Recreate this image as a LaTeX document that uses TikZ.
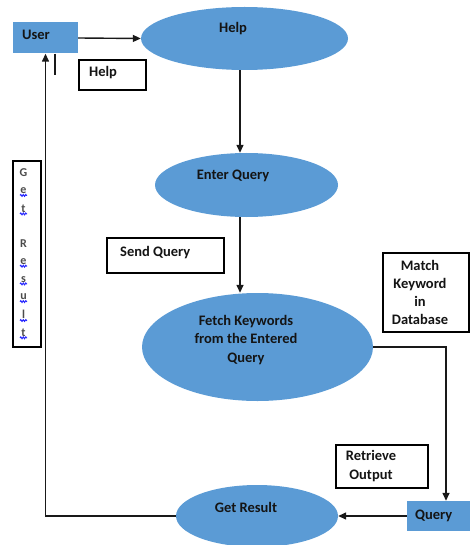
\documentclass[tikz,border=0pt]{standalone}
\usepackage{fontspec}
\setmainfont{Carlito}
\usetikzlibrary{shapes.geometric,arrows.meta,decorations.pathmorphing}
\definecolor{obl}{RGB}{91,155,213}
\begin{document}
\begin{tikzpicture}[x=1pt,y=-1pt,
  bubble/.style={ellipse,fill=obl,draw=none,inner sep=0pt},
  bluebox/.style={rectangle,fill=obl,draw=none,inner sep=0pt},
  whitebox/.style={rectangle,draw=black,line width=1.2pt,fill=white,inner sep=0pt},
  lbl/.style={font=\fontsize{14.5}{18.3}\selectfont\bfseries,text=black!92,inner sep=0pt},
  vlet/.style={font=\fontsize{12}{12}\selectfont\bfseries,text=black!70,inner sep=0pt},
  conn/.style={line width=1.4pt,draw=black!90},
  arr/.style={conn,-{Triangle[length=8pt,width=7pt]}},
  squig/.style={draw=blue!85,line width=1pt,decorate,decoration={snake,amplitude=0.9pt,segment length=2.5pt}}
]
\useasboundingbox (0,0) rectangle (470,545);
\clip (0,0) rectangle (470,545);

% shapes
\node[bluebox,minimum width=65pt,minimum height=31pt] (user) at (45.5,38) {};
\node[bubble,minimum width=207pt,minimum height=63pt] (help) at (244.5,38.5) {};
\node[bubble,minimum width=183pt,minimum height=64pt] (enter) at (246.5,185) {};
\node[bubble,minimum width=231pt,minimum height=108pt] (fetch) at (257.5,347) {};
\node[bubble,minimum width=162pt,minimum height=62pt] (getres) at (257,516) {};
\node[bluebox,minimum width=78pt,minimum height=30pt] (query) at (446,516) {};

\node[whitebox,minimum width=67pt,minimum height=30pt] (helpbox) at (112.5,75) {};
\node[whitebox,minimum width=117pt,minimum height=35pt] (sendbox) at (165.5,255.5) {};
\node[whitebox,minimum width=86pt,minimum height=79pt] (matchbox) at (426,292.5) {};
\node[whitebox,minimum width=92pt,minimum height=43pt] (retbox) at (382,466.5) {};
\node[whitebox,minimum width=28pt,minimum height=186pt] (getbox) at (27,254) {};

% texts
\node[lbl,anchor=west] (tuser) at (22,35) {User};
\node[lbl] (thelp) at (233,29) {Help};
\node[lbl,anchor=west] (thelpbox) at (89,73) {Help};
\node[lbl] (tenter) at (233,176) {Enter Query};
\node[lbl,anchor=west] (tsend) at (120,253) {Send Query};
\node[lbl,align=center] (tfetch) at (246,340) {Fetch Keywords\\from the Entered\\Query};
\node[lbl,align=center] (tmatch) at (420,292.5) {Match\\Keyword\\in\\Database};
\node[lbl,align=center] (tret) at (371,466) {Retrieve\\Output};
\node[lbl,anchor=west] (tquery) at (415,516) {Query};
\node[lbl] (tget) at (246,507) {Get Result};

% vertical letters
\foreach \ch/\yy/\sq [count=\i] in {G/173/0,e/190.7/1,t/208.4/1,R/243.8/0,e/261.5/1,s/279.2/1,u/296.9/1,l/314.6/1,t/332.3/1}{
  \node[vlet] (gl\i) at (23.5,\yy) {\ch};
  \ifnum\sq=1
    \draw[squig] ([xshift=-3.5pt,yshift=-1.5pt]gl\i.south) -- ([xshift=3.5pt,yshift=-1.5pt]gl\i.south);
  \fi
}

% connectors
\coordinate (stubend) at (55,75);
\coordinate (colA) at (240,0);
\draw[arr] (user.east) -- (help.west);
\draw[conn] (user.south -| stubend) -- (stubend);
\draw[arr] (help.south -| colA) -- (enter.north -| colA);
\draw[arr] (enter.south -| colA) -- (fetch.north -| colA);
\draw[arr] (fetch.east) -| (query.north);
\draw[arr] (query.west) -- (getres.east);
\draw[arr] (getres.west) -| (user.south);
\end{tikzpicture}
\end{document}
